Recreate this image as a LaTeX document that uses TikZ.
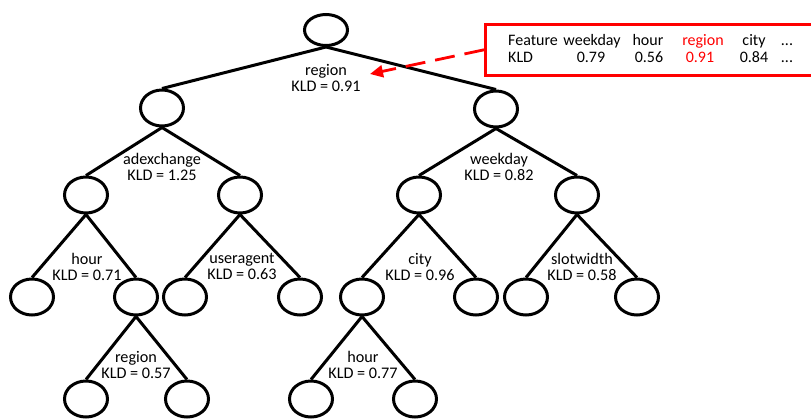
\documentclass[tikz,border=0pt]{standalone}
\usepackage{fontspec}
\setmainfont{Carlito}
\usetikzlibrary{arrows.meta,shapes.geometric}
\begin{document}
\begin{tikzpicture}[x=1pt,y=-1pt,
  tnode/.style={draw=black, line width=3pt, shape=ellipse, minimum width=43pt, minimum height=36pt, inner sep=0pt},
  rootnode/.style={tnode, minimum height=31pt},
  lbl/.style={font=\fontsize{16.2}{16}\selectfont, align=center, inner sep=0pt},
  tx/.style={font=\fontsize{16}{16}\selectfont, inner sep=0pt, anchor=base},
  txr/.style={tx, text=red},
  tedge/.style={line width=3pt},
  callout/.style={draw=red, line width=2.6pt, inner sep=0pt}]
\useasboundingbox (0,0) rectangle (811,418);
\clip (0,0) rectangle (811,418);
% tree nodes
\node[rootnode] (root) at (326,30) {};
\node[tnode] (L) at (162,108) {};
\node[tnode] (R) at (496,109) {};
\node[tnode] (LL) at (86,195) {};
\node[tnode] (LR) at (240,195) {};
\node[tnode] (RL) at (419,195) {};
\node[tnode] (RR) at (577,195) {};
\node[tnode] (LLL) at (32,297) {};
\node[tnode] (LLR) at (136,297) {};
\node[tnode] (LRL) at (185,297) {};
\node[tnode] (LRR) at (300,297) {};
\node[tnode] (RLL) at (362,297) {};
\node[tnode] (RLR) at (476,297) {};
\node[tnode] (RRL) at (526,297) {};
\node[tnode] (RRR) at (637,297) {};
\node[tnode] (LLRL) at (86,399) {};
\node[tnode] (LLRR) at (187,399) {};
\node[tnode] (RLLL) at (311,399) {};
\node[tnode] (RLLR) at (415,399) {};
% edges
\foreach \p/\c in {root/L,root/R,L/LL,L/LR,R/RL,R/RR,LL/LLL,LL/LLR,LR/LRL,LR/LRR,RL/RLL,RL/RLR,RR/RRL,RR/RRR,LLR/LLRL,LLR/LLRR,RLL/RLLL,RLL/RLLR}
  \draw[tedge] (\p.south) -- (\c.north);
% split labels
\node[lbl] (s0) at (326,78) {region\\KLD = 0.91};
\node[lbl] (s1) at (162,167) {adexchange\\KLD = 1.25};
\node[lbl] (s2) at (499,167) {weekday\\KLD = 0.82};
\node[lbl] (s3) at (87,266.5) {hour\\KLD = 0.71};
\node[lbl] (s4) at (242,266.5) {useragent\\KLD = 0.63};
\node[lbl] (s5) at (420,266.5) {city\\KLD = 0.96};
\node[lbl] (s6) at (582,266.5) {slotwidth\\KLD = 0.58};
\node[lbl] (s7) at (136,364.5) {region\\KLD = 0.57};
\node[lbl] (s8) at (363,364.5) {hour\\KLD = 0.77};
% callout table
\node[callout, anchor=north west, minimum width=331pt, minimum height=51pt] (tbl) at (484,23) {};
\node[tx, anchor=base west] (h0) at (508,45) {Feature};
\node[tx] (h1) at (592,45) {weekday};
\node[tx] (h2) at (648,45) {hour};
\node[txr] (h3) at (703,45) {region};
\node[tx] (h4) at (754,45) {city};
\node[tx] (h5) at (787,45) {...};
\node[tx, anchor=base west] (v0) at (508,62) {KLD};
\node[tx] (v1) at (591,62) {0.79};
\node[tx] (v2) at (649,62) {0.56};
\node[txr] (v3) at (700,62) {0.91};
\node[tx] (v4) at (754,62) {0.84};
\node[tx] (v5) at (787,62) {...};
% dashed arrow
\coordinate (arrtip) at (370,74);
\draw[red, line width=2.8pt, dash pattern=on 20pt off 10pt, -{Triangle[length=13pt,width=12pt]}] (tbl.west) -- (arrtip);
\end{tikzpicture}
\end{document}
